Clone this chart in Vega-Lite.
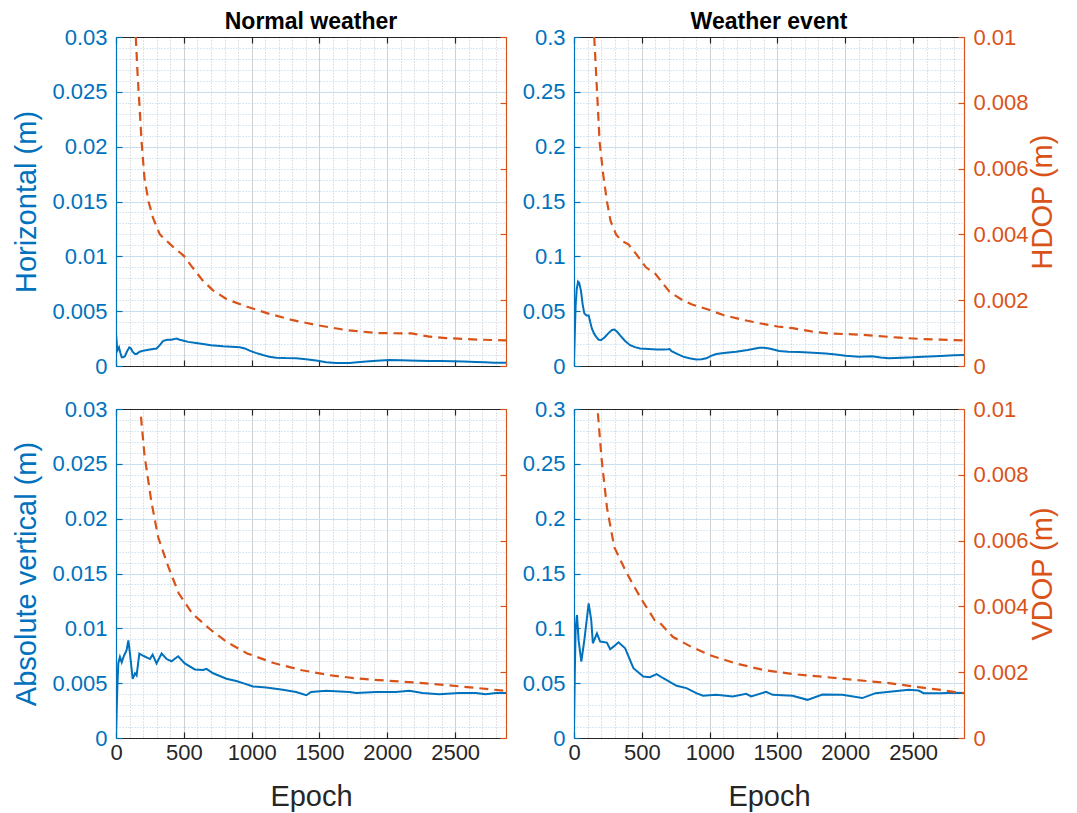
{
  "$schema": "https://vega.github.io/schema/vega-lite/v6.json",
  "padding": {"left": 12, "top": 11, "right": 5, "bottom": 5},
  "config": {
    "font": "Liberation Sans",
    "view": {"stroke": null},
    "axis": {"labelFontSize": 22, "titleFontSize": 29, "titleFontWeight": "normal", "tickSize": -6, "labelPadding": 15, "labelFlush": false, "labelOverlap": false, "labelBound": false, "domainWidth": 1.2, "tickWidth": 1.2, "gridWidth": 1},
    "title": {"font": "Liberation Sans"}
  },
  "datasets": {
    "hn": [
      {"epoch": 0, "v": 0.0029}, {"epoch": 5, "v": 0.0022}, {"epoch": 10, "v": 0.0014}, {"epoch": 22, "v": 0.0017}, {"epoch": 32, "v": 0.0012}, {"epoch": 42, "v": 0.0008}, {"epoch": 55, "v": 0.0008}, {"epoch": 66, "v": 0.0009}, {"epoch": 80, "v": 0.0013}, {"epoch": 98, "v": 0.0017}, {"epoch": 110, "v": 0.0016}, {"epoch": 122, "v": 0.0013}, {"epoch": 140, "v": 0.0011}, {"epoch": 152, "v": 0.0011}, {"epoch": 175, "v": 0.0013}, {"epoch": 201, "v": 0.0014}, {"epoch": 250, "v": 0.0015}, {"epoch": 299, "v": 0.0016}, {"epoch": 323, "v": 0.0019}, {"epoch": 348, "v": 0.0023}, {"epoch": 380, "v": 0.0024}, {"epoch": 409, "v": 0.0024}, {"epoch": 446, "v": 0.0025}, {"epoch": 470, "v": 0.0024}, {"epoch": 500, "v": 0.0023}, {"epoch": 532, "v": 0.0022}, {"epoch": 590, "v": 0.0021}, {"epoch": 642, "v": 0.002}, {"epoch": 700, "v": 0.0019}, {"epoch": 789, "v": 0.0018}, {"epoch": 850, "v": 0.00175}, {"epoch": 912, "v": 0.0017}, {"epoch": 950, "v": 0.0016}, {"epoch": 985, "v": 0.0014}, {"epoch": 1030, "v": 0.0012}, {"epoch": 1083, "v": 0.001}, {"epoch": 1130, "v": 0.00085}, {"epoch": 1181, "v": 0.00076}, {"epoch": 1250, "v": 0.00072}, {"epoch": 1328, "v": 0.0007}, {"epoch": 1400, "v": 0.00062}, {"epoch": 1475, "v": 0.0005}, {"epoch": 1550, "v": 0.00035}, {"epoch": 1623, "v": 0.00027}, {"epoch": 1720, "v": 0.00027}, {"epoch": 1800, "v": 0.00037}, {"epoch": 1868, "v": 0.00043}, {"epoch": 1950, "v": 0.0005}, {"epoch": 2015, "v": 0.00055}, {"epoch": 2100, "v": 0.00052}, {"epoch": 2162, "v": 0.0005}, {"epoch": 2230, "v": 0.00048}, {"epoch": 2309, "v": 0.00046}, {"epoch": 2400, "v": 0.00045}, {"epoch": 2480, "v": 0.00043}, {"epoch": 2560, "v": 0.0004}, {"epoch": 2652, "v": 0.00037}, {"epoch": 2720, "v": 0.00034}, {"epoch": 2787, "v": 0.0003}, {"epoch": 2875, "v": 0.0003}
    ],
    "hdn": [
      {"epoch": 146, "v": 0.01}, {"epoch": 160, "v": 0.0088}, {"epoch": 172, "v": 0.008}, {"epoch": 189, "v": 0.0068}, {"epoch": 210, "v": 0.0057}, {"epoch": 240, "v": 0.005}, {"epoch": 273, "v": 0.0045}, {"epoch": 323, "v": 0.004}, {"epoch": 412, "v": 0.00365}, {"epoch": 500, "v": 0.00335}, {"epoch": 563, "v": 0.003}, {"epoch": 639, "v": 0.0026}, {"epoch": 715, "v": 0.0023}, {"epoch": 816, "v": 0.00203}, {"epoch": 967, "v": 0.0018}, {"epoch": 1119, "v": 0.0016}, {"epoch": 1295, "v": 0.0014}, {"epoch": 1497, "v": 0.00123}, {"epoch": 1699, "v": 0.00109}, {"epoch": 1927, "v": 0.001}, {"epoch": 2179, "v": 0.00099}, {"epoch": 2300, "v": 0.0009}, {"epoch": 2432, "v": 0.00085}, {"epoch": 2684, "v": 0.0008}, {"epoch": 2875, "v": 0.00078}
    ],
    "he": [
      {"epoch": 0, "v": 0.004}, {"epoch": 6, "v": 0.03}, {"epoch": 12, "v": 0.055}, {"epoch": 20, "v": 0.07}, {"epoch": 30, "v": 0.077}, {"epoch": 38, "v": 0.076}, {"epoch": 51, "v": 0.069}, {"epoch": 64, "v": 0.056}, {"epoch": 76, "v": 0.048}, {"epoch": 92, "v": 0.046}, {"epoch": 108, "v": 0.046}, {"epoch": 120, "v": 0.04}, {"epoch": 132, "v": 0.034}, {"epoch": 150, "v": 0.029}, {"epoch": 164, "v": 0.0266}, {"epoch": 180, "v": 0.024}, {"epoch": 198, "v": 0.0235}, {"epoch": 225, "v": 0.026}, {"epoch": 254, "v": 0.03}, {"epoch": 280, "v": 0.0328}, {"epoch": 298, "v": 0.0332}, {"epoch": 320, "v": 0.031}, {"epoch": 340, "v": 0.028}, {"epoch": 375, "v": 0.023}, {"epoch": 413, "v": 0.019}, {"epoch": 450, "v": 0.0172}, {"epoch": 487, "v": 0.016}, {"epoch": 550, "v": 0.0155}, {"epoch": 609, "v": 0.0151}, {"epoch": 660, "v": 0.015}, {"epoch": 694, "v": 0.0152}, {"epoch": 705, "v": 0.0155}, {"epoch": 719, "v": 0.0136}, {"epoch": 760, "v": 0.011}, {"epoch": 804, "v": 0.0085}, {"epoch": 850, "v": 0.007}, {"epoch": 902, "v": 0.006}, {"epoch": 940, "v": 0.0062}, {"epoch": 976, "v": 0.007}, {"epoch": 1010, "v": 0.0092}, {"epoch": 1049, "v": 0.0109}, {"epoch": 1120, "v": 0.012}, {"epoch": 1196, "v": 0.013}, {"epoch": 1280, "v": 0.0145}, {"epoch": 1367, "v": 0.0166}, {"epoch": 1400, "v": 0.0167}, {"epoch": 1440, "v": 0.016}, {"epoch": 1513, "v": 0.0136}, {"epoch": 1580, "v": 0.013}, {"epoch": 1660, "v": 0.0127}, {"epoch": 1760, "v": 0.012}, {"epoch": 1856, "v": 0.0115}, {"epoch": 1930, "v": 0.0105}, {"epoch": 2002, "v": 0.0094}, {"epoch": 2100, "v": 0.0085}, {"epoch": 2198, "v": 0.0088}, {"epoch": 2260, "v": 0.0078}, {"epoch": 2320, "v": 0.007}, {"epoch": 2418, "v": 0.0076}, {"epoch": 2492, "v": 0.0079}, {"epoch": 2577, "v": 0.0085}, {"epoch": 2703, "v": 0.0091}, {"epoch": 2800, "v": 0.0098}, {"epoch": 2875, "v": 0.01}
    ],
    "hde": [
      {"epoch": 149, "v": 0.01}, {"epoch": 168, "v": 0.0085}, {"epoch": 189, "v": 0.0068}, {"epoch": 216, "v": 0.0058}, {"epoch": 243, "v": 0.005}, {"epoch": 270, "v": 0.0044}, {"epoch": 310, "v": 0.004}, {"epoch": 351, "v": 0.0038}, {"epoch": 401, "v": 0.0037}, {"epoch": 459, "v": 0.0034}, {"epoch": 530, "v": 0.003}, {"epoch": 600, "v": 0.0028}, {"epoch": 705, "v": 0.00225}, {"epoch": 800, "v": 0.002}, {"epoch": 870, "v": 0.00187}, {"epoch": 1000, "v": 0.0017}, {"epoch": 1100, "v": 0.00155}, {"epoch": 1250, "v": 0.0014}, {"epoch": 1367, "v": 0.0013}, {"epoch": 1500, "v": 0.0012}, {"epoch": 1611, "v": 0.00115}, {"epoch": 1750, "v": 0.00105}, {"epoch": 1870, "v": 0.00099}, {"epoch": 2000, "v": 0.00097}, {"epoch": 2130, "v": 0.00095}, {"epoch": 2250, "v": 0.00091}, {"epoch": 2400, "v": 0.00086}, {"epoch": 2565, "v": 0.00082}, {"epoch": 2703, "v": 0.0008}, {"epoch": 2875, "v": 0.00078}
    ],
    "vn": [
      {"epoch": 0, "v": 0.00015}, {"epoch": 10, "v": 0.0047}, {"epoch": 17, "v": 0.0068}, {"epoch": 29, "v": 0.0074}, {"epoch": 42, "v": 0.0069}, {"epoch": 59, "v": 0.0075}, {"epoch": 78, "v": 0.008}, {"epoch": 91, "v": 0.0089}, {"epoch": 103, "v": 0.0077}, {"epoch": 123, "v": 0.0054}, {"epoch": 140, "v": 0.0059}, {"epoch": 152, "v": 0.0057}, {"epoch": 172, "v": 0.0077}, {"epoch": 201, "v": 0.0075}, {"epoch": 250, "v": 0.0072}, {"epoch": 270, "v": 0.0076}, {"epoch": 299, "v": 0.0068}, {"epoch": 336, "v": 0.0077}, {"epoch": 373, "v": 0.0072}, {"epoch": 409, "v": 0.007}, {"epoch": 458, "v": 0.00745}, {"epoch": 507, "v": 0.0068}, {"epoch": 581, "v": 0.00625}, {"epoch": 642, "v": 0.0062}, {"epoch": 667, "v": 0.0063}, {"epoch": 716, "v": 0.0059}, {"epoch": 814, "v": 0.0054}, {"epoch": 887, "v": 0.0052}, {"epoch": 936, "v": 0.005}, {"epoch": 1010, "v": 0.0047}, {"epoch": 1108, "v": 0.0046}, {"epoch": 1230, "v": 0.0044}, {"epoch": 1328, "v": 0.0042}, {"epoch": 1402, "v": 0.0039}, {"epoch": 1439, "v": 0.0042}, {"epoch": 1549, "v": 0.0043}, {"epoch": 1721, "v": 0.0042}, {"epoch": 1770, "v": 0.0041}, {"epoch": 1917, "v": 0.0042}, {"epoch": 2064, "v": 0.0042}, {"epoch": 2162, "v": 0.0043}, {"epoch": 2260, "v": 0.0041}, {"epoch": 2382, "v": 0.004}, {"epoch": 2529, "v": 0.0041}, {"epoch": 2652, "v": 0.0041}, {"epoch": 2725, "v": 0.004}, {"epoch": 2800, "v": 0.0041}, {"epoch": 2875, "v": 0.0041}
    ],
    "vdn": [
      {"epoch": 184, "v": 0.00977}, {"epoch": 210, "v": 0.0086}, {"epoch": 235, "v": 0.0079}, {"epoch": 260, "v": 0.0072}, {"epoch": 311, "v": 0.0061}, {"epoch": 386, "v": 0.0052}, {"epoch": 462, "v": 0.0044}, {"epoch": 563, "v": 0.00378}, {"epoch": 689, "v": 0.00332}, {"epoch": 816, "v": 0.00292}, {"epoch": 967, "v": 0.00257}, {"epoch": 1169, "v": 0.00227}, {"epoch": 1371, "v": 0.00206}, {"epoch": 1573, "v": 0.00191}, {"epoch": 1775, "v": 0.00181}, {"epoch": 2003, "v": 0.00174}, {"epoch": 2230, "v": 0.00168}, {"epoch": 2432, "v": 0.00161}, {"epoch": 2634, "v": 0.00153}, {"epoch": 2875, "v": 0.00143}
    ],
    "ve": [
      {"epoch": 0, "v": 0.01}, {"epoch": 6, "v": 0.06}, {"epoch": 12, "v": 0.1}, {"epoch": 22, "v": 0.112}, {"epoch": 34, "v": 0.089}, {"epoch": 54, "v": 0.0697}, {"epoch": 76, "v": 0.089}, {"epoch": 108, "v": 0.1227}, {"epoch": 127, "v": 0.1076}, {"epoch": 139, "v": 0.0864}, {"epoch": 169, "v": 0.0954}, {"epoch": 193, "v": 0.0879}, {"epoch": 242, "v": 0.087}, {"epoch": 267, "v": 0.0809}, {"epoch": 291, "v": 0.0833}, {"epoch": 328, "v": 0.0873}, {"epoch": 377, "v": 0.0818}, {"epoch": 438, "v": 0.0636}, {"epoch": 511, "v": 0.056}, {"epoch": 560, "v": 0.0555}, {"epoch": 609, "v": 0.0582}, {"epoch": 658, "v": 0.0545}, {"epoch": 756, "v": 0.0476}, {"epoch": 829, "v": 0.0455}, {"epoch": 902, "v": 0.0409}, {"epoch": 951, "v": 0.0385}, {"epoch": 1049, "v": 0.0394}, {"epoch": 1171, "v": 0.0379}, {"epoch": 1269, "v": 0.0403}, {"epoch": 1306, "v": 0.0379}, {"epoch": 1416, "v": 0.0421}, {"epoch": 1465, "v": 0.0394}, {"epoch": 1611, "v": 0.0385}, {"epoch": 1721, "v": 0.0348}, {"epoch": 1831, "v": 0.0397}, {"epoch": 1978, "v": 0.0394}, {"epoch": 2125, "v": 0.0364}, {"epoch": 2223, "v": 0.0409}, {"epoch": 2345, "v": 0.0424}, {"epoch": 2467, "v": 0.0439}, {"epoch": 2540, "v": 0.0433}, {"epoch": 2577, "v": 0.0409}, {"epoch": 2700, "v": 0.0408}, {"epoch": 2800, "v": 0.0412}, {"epoch": 2875, "v": 0.041}
    ],
    "vde": [
      {"epoch": 176, "v": 0.00987}, {"epoch": 203, "v": 0.0085}, {"epoch": 243, "v": 0.007}, {"epoch": 297, "v": 0.0058}, {"epoch": 378, "v": 0.0051}, {"epoch": 430, "v": 0.0047}, {"epoch": 500, "v": 0.0042}, {"epoch": 595, "v": 0.00358}, {"epoch": 633, "v": 0.0035}, {"epoch": 730, "v": 0.00307}, {"epoch": 865, "v": 0.00277}, {"epoch": 1000, "v": 0.00252}, {"epoch": 1189, "v": 0.00227}, {"epoch": 1405, "v": 0.00206}, {"epoch": 1622, "v": 0.00194}, {"epoch": 1838, "v": 0.00186}, {"epoch": 2081, "v": 0.00176}, {"epoch": 2297, "v": 0.00168}, {"epoch": 2514, "v": 0.00156}, {"epoch": 2703, "v": 0.00146}, {"epoch": 2875, "v": 0.00136}
    ]
  },
  "columns": 2,
  "bounds": "flush",
  "spacing": {"column": 68, "row": 43},
  "concat": [
    {
      "width": 390, "height": 329,
      "title": {"text": "Normal weather", "fontSize": 23, "fontWeight": "bold", "color": "#000000", "offset": -8},
      "layer": [
        {"data": {"name": "hn"},
         "mark": {"type": "line", "color": "#0072BD", "strokeWidth": 2, "clip": true},
         "encoding": {
           "x": {"field": "epoch", "type": "quantitative", "scale": {"domain": [0, 2875], "nice": false, "zero": false},
                 "axis": {"orient": "bottom", "values": [0,100,200,300,400,500,600,700,800,900,1000,1100,1200,1300,1400,1500,1600,1700,1800,1900,2000,2100,2200,2300,2400,2500,2600,2700,2800], "labels": false, "title": null, "grid": true,
                          "gridColor": {"condition": {"test": "datum.value % 500 === 0", "value": "#d0d0d0"}, "value": "#c4c4c4"},
                          "gridDash": {"condition": {"test": "datum.value % 500 === 0", "value": []}, "value": [1, 2]},
                          "tickOpacity": {"condition": {"test": "datum.value % 500 === 0", "value": 1}, "value": 0},
                          "domainColor": "#262626", "tickColor": "#262626"}},
           "y": {"field": "v", "type": "quantitative", "scale": {"domain": [0, 0.03], "nice": false, "zero": false},
                 "axis": {"orient": "left", "values": [0,0.001,0.002,0.003,0.004,0.005,0.006,0.007,0.008,0.009,0.01,0.011,0.012,0.013,0.014,0.015,0.016,0.017,0.018,0.019,0.02,0.021,0.022,0.023,0.024,0.025,0.026,0.027,0.028,0.029,0.03],
                          "labelExpr": "round(datum.value*1000) % 5 === 0 ? format(datum.value, '~g') : ''",
                          "title": "Horizontal (m)", "titleColor": "#0072BD", "titlePadding": 10, "labelColor": "#0072BD", "domainColor": "#0072BD", "tickColor": "#0072BD", "grid": true,
                          "gridColor": {"condition": {"test": "round(datum.value*1000) % 5 === 0", "value": "#c9dff0"}, "value": "#b5d3ec"},
                          "gridDash": {"condition": {"test": "round(datum.value*1000) % 5 === 0", "value": []}, "value": [1, 2]},
                          "tickOpacity": {"condition": {"test": "round(datum.value*1000) % 5 === 0", "value": 1}, "value": 0}}}
         }},
        {"data": {"name": "hdn"},
         "mark": {"type": "line", "color": "#D95319", "strokeWidth": 2.2, "strokeDash": [9, 6], "clip": true},
         "encoding": {
           "x": {"field": "epoch", "type": "quantitative", "scale": {"domain": [0, 2875], "nice": false, "zero": false},
                 "axis": {"orient": "top", "values": [0,500,1000,1500,2000,2500], "labels": false, "title": null, "grid": false, "domainColor": "#262626", "tickColor": "#262626"}},
           "y": {"field": "v", "type": "quantitative", "scale": {"domain": [0, 0.01], "nice": false, "zero": false},
                 "axis": {"orient": "right", "values": [0,0.002,0.004,0.006,0.008,0.01], "labels": false, "title": null, "grid": false, "domainColor": "#D95319", "tickColor": "#D95319"}}
         }}
      ],
      "resolve": {"scale": {"y": "independent"}, "axis": {"x": "independent"}}
    },
    {
      "width": 390, "height": 329,
      "title": {"text": "Weather event", "fontSize": 23, "fontWeight": "bold", "color": "#000000", "offset": -8},
      "layer": [
        {"data": {"name": "he"},
         "mark": {"type": "line", "color": "#0072BD", "strokeWidth": 2, "clip": true},
         "encoding": {
           "x": {"field": "epoch", "type": "quantitative", "scale": {"domain": [0, 2875], "nice": false, "zero": false},
                 "axis": {"orient": "bottom", "values": [0,100,200,300,400,500,600,700,800,900,1000,1100,1200,1300,1400,1500,1600,1700,1800,1900,2000,2100,2200,2300,2400,2500,2600,2700,2800], "labels": false, "title": null, "grid": true,
                          "gridColor": {"condition": {"test": "datum.value % 500 === 0", "value": "#d0d0d0"}, "value": "#c4c4c4"},
                          "gridDash": {"condition": {"test": "datum.value % 500 === 0", "value": []}, "value": [1, 2]},
                          "tickOpacity": {"condition": {"test": "datum.value % 500 === 0", "value": 1}, "value": 0},
                          "domainColor": "#262626", "tickColor": "#262626"}},
           "y": {"field": "v", "type": "quantitative", "scale": {"domain": [0, 0.3], "nice": false, "zero": false},
                 "axis": {"orient": "left", "values": [0,0.01,0.02,0.03,0.04,0.05,0.06,0.07,0.08,0.09,0.1,0.11,0.12,0.13,0.14,0.15,0.16,0.17,0.18,0.19,0.2,0.21,0.22,0.23,0.24,0.25,0.26,0.27,0.28,0.29,0.3],
                          "labelExpr": "round(datum.value*100) % 5 === 0 ? format(datum.value, '~g') : ''",
                          "title": null, "labelColor": "#0072BD", "domainColor": "#0072BD", "tickColor": "#0072BD", "grid": true,
                          "gridColor": {"condition": {"test": "round(datum.value*100) % 5 === 0", "value": "#c9dff0"}, "value": "#b5d3ec"},
                          "gridDash": {"condition": {"test": "round(datum.value*100) % 5 === 0", "value": []}, "value": [1, 2]},
                          "tickOpacity": {"condition": {"test": "round(datum.value*100) % 5 === 0", "value": 1}, "value": 0}}}
         }},
        {"data": {"name": "hde"},
         "mark": {"type": "line", "color": "#D95319", "strokeWidth": 2.2, "strokeDash": [9, 6], "clip": true},
         "encoding": {
           "x": {"field": "epoch", "type": "quantitative", "scale": {"domain": [0, 2875], "nice": false, "zero": false},
                 "axis": {"orient": "top", "values": [0,500,1000,1500,2000,2500], "labels": false, "title": null, "grid": false, "domainColor": "#262626", "tickColor": "#262626"}},
           "y": {"field": "v", "type": "quantitative", "scale": {"domain": [0, 0.01], "nice": false, "zero": false},
                 "axis": {"orient": "right", "values": [0,0.002,0.004,0.006,0.008,0.01], "labelExpr": "format(datum.value, '~g')", "title": "HDOP (m)", "titleColor": "#D95319", "titlePadding": 0, "titleAngle": 270, "titleBaseline": "top", "labelColor": "#D95319", "grid": false, "domainColor": "#D95319", "tickColor": "#D95319"}}
         }}
      ],
      "resolve": {"scale": {"y": "independent"}, "axis": {"x": "independent"}}
    },
    {
      "width": 390, "height": 329,
      "layer": [
        {"data": {"name": "vn"},
         "mark": {"type": "line", "color": "#0072BD", "strokeWidth": 2, "clip": true},
         "encoding": {
           "x": {"field": "epoch", "type": "quantitative", "scale": {"domain": [0, 2875], "nice": false, "zero": false},
                 "axis": {"orient": "bottom", "values": [0,100,200,300,400,500,600,700,800,900,1000,1100,1200,1300,1400,1500,1600,1700,1800,1900,2000,2100,2200,2300,2400,2500,2600,2700,2800],
                          "labelExpr": "datum.value % 500 === 0 ? format(datum.value, 'd') : ''", "labelColor": "#262626", "labelPadding": 10,
                          "title": "Epoch", "titleColor": "#262626", "titlePadding": 19, "grid": true,
                          "gridColor": {"condition": {"test": "datum.value % 500 === 0", "value": "#d0d0d0"}, "value": "#c4c4c4"},
                          "gridDash": {"condition": {"test": "datum.value % 500 === 0", "value": []}, "value": [1, 2]},
                          "tickOpacity": {"condition": {"test": "datum.value % 500 === 0", "value": 1}, "value": 0},
                          "domainColor": "#262626", "tickColor": "#262626"}},
           "y": {"field": "v", "type": "quantitative", "scale": {"domain": [0, 0.03], "nice": false, "zero": false},
                 "axis": {"orient": "left", "values": [0,0.001,0.002,0.003,0.004,0.005,0.006,0.007,0.008,0.009,0.01,0.011,0.012,0.013,0.014,0.015,0.016,0.017,0.018,0.019,0.02,0.021,0.022,0.023,0.024,0.025,0.026,0.027,0.028,0.029,0.03],
                          "labelExpr": "round(datum.value*1000) % 5 === 0 ? format(datum.value, '~g') : ''",
                          "title": "Absolute vertical (m)", "titleColor": "#0072BD", "titlePadding": 10, "labelColor": "#0072BD", "domainColor": "#0072BD", "tickColor": "#0072BD", "grid": true,
                          "gridColor": {"condition": {"test": "round(datum.value*1000) % 5 === 0", "value": "#c9dff0"}, "value": "#b5d3ec"},
                          "gridDash": {"condition": {"test": "round(datum.value*1000) % 5 === 0", "value": []}, "value": [1, 2]},
                          "tickOpacity": {"condition": {"test": "round(datum.value*1000) % 5 === 0", "value": 1}, "value": 0}}}
         }},
        {"data": {"name": "vdn"},
         "mark": {"type": "line", "color": "#D95319", "strokeWidth": 2.2, "strokeDash": [9, 6], "clip": true},
         "encoding": {
           "x": {"field": "epoch", "type": "quantitative", "scale": {"domain": [0, 2875], "nice": false, "zero": false},
                 "axis": {"orient": "top", "values": [0,500,1000,1500,2000,2500], "labels": false, "title": null, "grid": false, "domainColor": "#262626", "tickColor": "#262626"}},
           "y": {"field": "v", "type": "quantitative", "scale": {"domain": [0, 0.01], "nice": false, "zero": false},
                 "axis": {"orient": "right", "values": [0,0.002,0.004,0.006,0.008,0.01], "labels": false, "title": null, "grid": false, "domainColor": "#D95319", "tickColor": "#D95319"}}
         }}
      ],
      "resolve": {"scale": {"y": "independent"}, "axis": {"x": "independent"}}
    },
    {
      "width": 390, "height": 329,
      "layer": [
        {"data": {"name": "ve"},
         "mark": {"type": "line", "color": "#0072BD", "strokeWidth": 2, "clip": true},
         "encoding": {
           "x": {"field": "epoch", "type": "quantitative", "scale": {"domain": [0, 2875], "nice": false, "zero": false},
                 "axis": {"orient": "bottom", "values": [0,100,200,300,400,500,600,700,800,900,1000,1100,1200,1300,1400,1500,1600,1700,1800,1900,2000,2100,2200,2300,2400,2500,2600,2700,2800],
                          "labelExpr": "datum.value % 500 === 0 ? format(datum.value, 'd') : ''", "labelColor": "#262626", "labelPadding": 10,
                          "title": "Epoch", "titleColor": "#262626", "titlePadding": 19, "grid": true,
                          "gridColor": {"condition": {"test": "datum.value % 500 === 0", "value": "#d0d0d0"}, "value": "#c4c4c4"},
                          "gridDash": {"condition": {"test": "datum.value % 500 === 0", "value": []}, "value": [1, 2]},
                          "tickOpacity": {"condition": {"test": "datum.value % 500 === 0", "value": 1}, "value": 0},
                          "domainColor": "#262626", "tickColor": "#262626"}},
           "y": {"field": "v", "type": "quantitative", "scale": {"domain": [0, 0.3], "nice": false, "zero": false},
                 "axis": {"orient": "left", "values": [0,0.01,0.02,0.03,0.04,0.05,0.06,0.07,0.08,0.09,0.1,0.11,0.12,0.13,0.14,0.15,0.16,0.17,0.18,0.19,0.2,0.21,0.22,0.23,0.24,0.25,0.26,0.27,0.28,0.29,0.3],
                          "labelExpr": "round(datum.value*100) % 5 === 0 ? format(datum.value, '~g') : ''",
                          "title": null, "labelColor": "#0072BD", "domainColor": "#0072BD", "tickColor": "#0072BD", "grid": true,
                          "gridColor": {"condition": {"test": "round(datum.value*100) % 5 === 0", "value": "#c9dff0"}, "value": "#b5d3ec"},
                          "gridDash": {"condition": {"test": "round(datum.value*100) % 5 === 0", "value": []}, "value": [1, 2]},
                          "tickOpacity": {"condition": {"test": "round(datum.value*100) % 5 === 0", "value": 1}, "value": 0}}}
         }},
        {"data": {"name": "vde"},
         "mark": {"type": "line", "color": "#D95319", "strokeWidth": 2.2, "strokeDash": [9, 6], "clip": true},
         "encoding": {
           "x": {"field": "epoch", "type": "quantitative", "scale": {"domain": [0, 2875], "nice": false, "zero": false},
                 "axis": {"orient": "top", "values": [0,500,1000,1500,2000,2500], "labels": false, "title": null, "grid": false, "domainColor": "#262626", "tickColor": "#262626"}},
           "y": {"field": "v", "type": "quantitative", "scale": {"domain": [0, 0.01], "nice": false, "zero": false},
                 "axis": {"orient": "right", "values": [0,0.002,0.004,0.006,0.008,0.01], "labelExpr": "format(datum.value, '~g')", "title": "VDOP (m)", "titleColor": "#D95319", "titlePadding": 0, "titleAngle": 270, "titleBaseline": "top", "labelColor": "#D95319", "grid": false, "domainColor": "#D95319", "tickColor": "#D95319"}}
         }}
      ],
      "resolve": {"scale": {"y": "independent"}, "axis": {"x": "independent"}}
    }
  ]
}
